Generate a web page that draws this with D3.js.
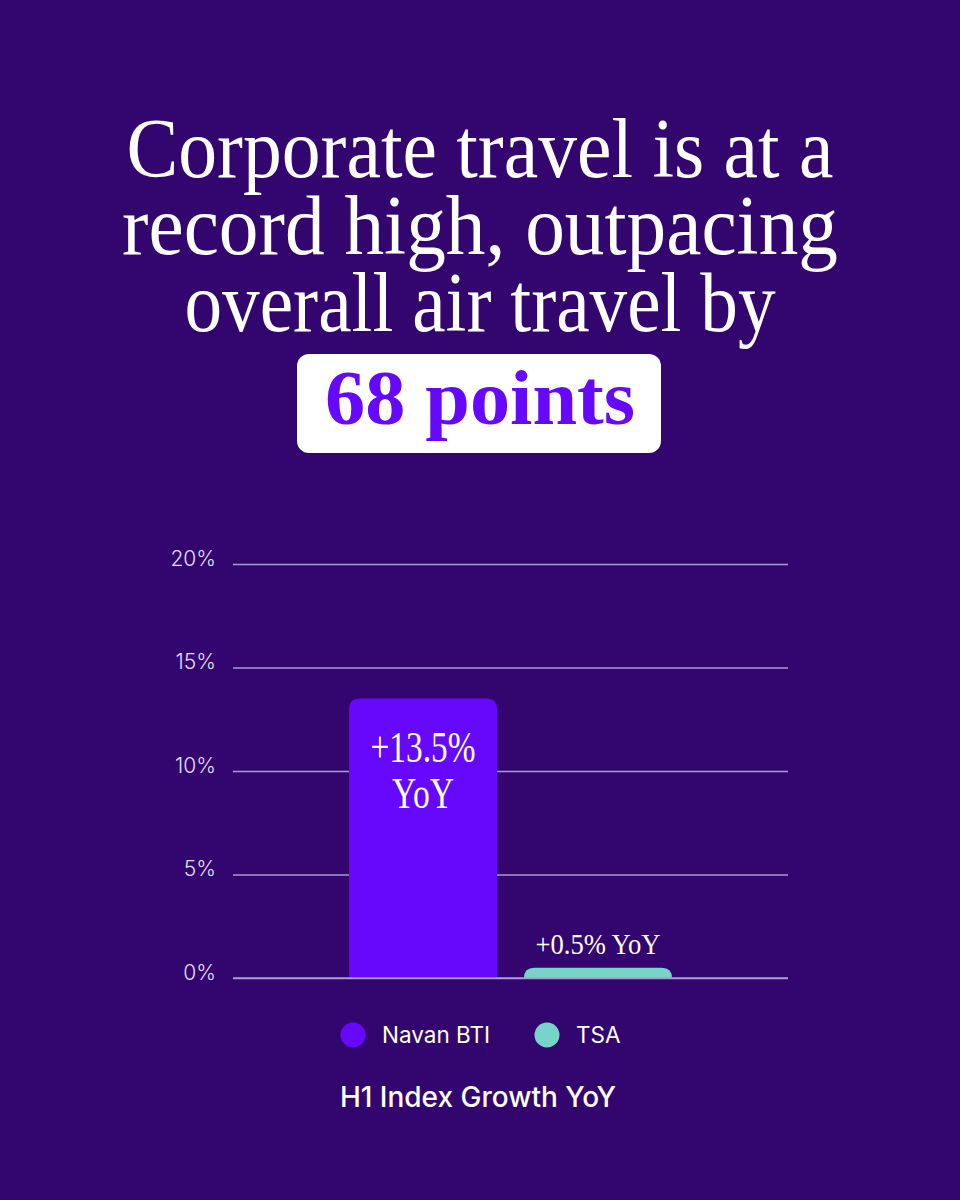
<!DOCTYPE html>
<html>
<head>
<meta charset="utf-8">
<script src="https://cdn.jsdelivr.net/npm/d3@7"></script>
<style>
  body { margin: 0; background: #33066f; }
  svg { display: block; }
</style>
</head>
<body>
<svg id="chart"></svg>
<script>
// chart data
const categories = ["Navan BTI", "TSA"];
const values = [13.5, 0.5];
const barLabels = [["+13.5%", "YoY"], ["+0.5% YoY"]];
const yTicks = [0, 5, 10, 15, 20];
const titleLines = ["Corporate travel is at a", "record high, outpacing", "overall air travel by"];
const highlight = "68 points";
const axisTitle = "H1 Index Growth YoY";

let width = 960, height = 1200;
const colors = ["#6508fb", "#78d4c9"];
const bg = "#33066f";

var margin = {top: 564, right: 172, bottom: 222, left: 233};
const plotRight = width - margin.right,
      plotBottom = height - margin.bottom;

let svg = d3.select("#chart")
    .attr("width", width)
    .attr("height", height);

svg.append("rect")
    .attr("width", width)
    .attr("height", height)
    .attr("fill", bg);

// headline
const titleWidths = [707, 716, 591];
svg.append("g")
    .selectAll("text")
    .data(titleLines)
    .enter()
    .append("text")
        .attr("x", width / 2)
        .attr("y", (d, i) => 177 + i * 77)
        .attr("text-anchor", "middle")
        .attr("textLength", (d, i) => titleWidths[i])
        .attr("lengthAdjust", "spacingAndGlyphs")
        .style("font-family", "'Liberation Serif', serif")
        .style("font-size", "84px")
        .style("fill", "white")
        .text(d => d);

// highlight pill
svg.append("rect")
    .attr("x", 297)
    .attr("y", 354)
    .attr("width", 364)
    .attr("height", 99)
    .attr("rx", 12)
    .attr("fill", "white");

svg.append("text")
    .attr("x", width / 2)
    .attr("y", 424)
    .attr("text-anchor", "middle")
    .attr("textLength", 310)
    .attr("lengthAdjust", "spacingAndGlyphs")
    .style("font-family", "'Liberation Serif', serif")
    .style("font-weight", "bold")
    .style("font-size", "78px")
    .style("fill", "#6508fb")
    .text(highlight);

// scales
const xScale = d3.scaleBand()
    .domain(categories)
    .range([margin.left, plotRight])
    .paddingInner(0.154)
    .paddingOuter(0.663);

const yScale = d3.scaleLinear()
    .domain([0, 20])
    .range([plotBottom, margin.top]);

// gridlines + tick labels
let yAxis = svg.append("g")
    .attr("transform", "translate(" + margin.left + ",0)")
    .call(d3.axisLeft(yScale)
        .tickValues(yTicks)
        .tickSize(-(plotRight - margin.left))
        .tickPadding(17)
        .tickFormat(d => d + "%"));
yAxis.select(".domain").remove();
yAxis.selectAll("line")
    .attr("stroke", "#a99bd4")
    .attr("stroke-width", 1.6);
yAxis.selectAll("text")
    .attr("dy", "0")
    .attr("y", 1)
    .style("font-family", "Inter, sans-serif")
    .style("font-weight", 300)
    .style("font-size", "21px")
    .style("fill", "#e4def4");

// bars with rounded top corners
function topRounded(x, y, w, h, r) {
    r = Math.min(r, h, w / 2);
    return "M" + x + "," + (y + h) +
        "V" + (y + r) +
        "Q" + x + "," + y + " " + (x + r) + "," + y +
        "H" + (x + w - r) +
        "Q" + (x + w) + "," + y + " " + (x + w) + "," + (y + r) +
        "V" + (y + h) + "Z";
}

const barData = categories.map((c, i) => ({cat: c, value: values[i], color: colors[i], label: barLabels[i]}));

svg.append("g")
    .selectAll("path")
    .data(barData)
    .enter()
    .append("path")
        .attr("d", d => topRounded(xScale(d.cat), yScale(d.value), xScale.bandwidth(),
                                   yScale(0) - yScale(d.value), 11))
        .attr("fill", d => d.color);

// baseline on top of the bars
svg.append("line")
    .attr("x1", margin.left)
    .attr("x2", plotRight)
    .attr("y1", yScale(0))
    .attr("y2", yScale(0))
    .attr("stroke", "#a99bd4")
    .attr("stroke-width", 1.6);

// value labels
const navan = barData[0], tsa = barData[1];
const navanX = xScale(navan.cat) + xScale.bandwidth() / 2;
const labelWidths = [105, 62];
navan.label.forEach((t, i) => {
    svg.append("text")
        .attr("x", navanX)
        .attr("y", yScale(navan.value) + 63 + i * 46)
        .attr("text-anchor", "middle")
        .attr("textLength", labelWidths[i])
        .attr("lengthAdjust", "spacingAndGlyphs")
        .style("font-family", "'Liberation Serif', serif")
        .style("font-size", "44px")
        .style("fill", "white")
        .text(t);
});

svg.append("text")
    .attr("x", xScale(tsa.cat) + xScale.bandwidth() / 2)
    .attr("y", yScale(tsa.value) - 14)
    .attr("text-anchor", "middle")
    .attr("textLength", 125)
    .attr("lengthAdjust", "spacingAndGlyphs")
    .style("font-family", "'Liberation Serif', serif")
    .style("font-size", "30px")
    .style("fill", "white")
    .text(tsa.label[0]);

// legend
const legendX = [353, 547];
let legend = svg.append("g")
    .selectAll("g")
    .data(barData)
    .enter()
    .append("g")
        .attr("transform", (d, i) => "translate(" + legendX[i] + ",1035)");
legend.append("circle")
    .attr("r", 12.5)
    .attr("fill", d => d.color);
legend.append("text")
    .attr("x", 29)
    .attr("y", 8)
    .style("font-family", "Inter, sans-serif")
    .style("font-size", "22.5px")
    .style("fill", "white")
    .text(d => d.cat);

svg.append("text")
    .attr("x", width / 2 - 2)
    .attr("y", 1107)
    .attr("text-anchor", "middle")
    .style("font-family", "Inter, sans-serif")
    .style("font-weight", 500)
    .style("font-size", "28px")
    .style("fill", "white")
    .text(axisTitle);
</script>
</body>
</html>
